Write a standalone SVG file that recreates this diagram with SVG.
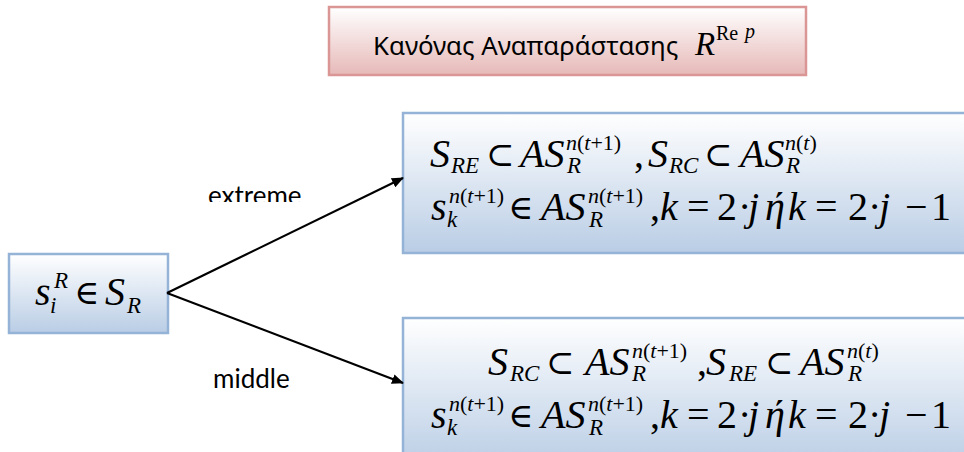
<svg xmlns="http://www.w3.org/2000/svg" width="964" height="452" viewBox="0 0 964 452">
<defs>
<linearGradient id="gBlue" x1="0" y1="0" x2="0" y2="1">
<stop offset="0" stop-color="#ffffff"/>
<stop offset="1" stop-color="#b9cde5"/>
</linearGradient>
<linearGradient id="gRed" x1="0" y1="0" x2="0" y2="1">
<stop offset="0" stop-color="#ffffff"/>
<stop offset="1" stop-color="#e6b9b8"/>
</linearGradient>
<marker id="arr" markerWidth="12" markerHeight="10" refX="11" refY="5" orient="auto" markerUnits="userSpaceOnUse">
<path d="M0,0 L12,5 L0,10 Z" fill="#000"/>
</marker>
<clipPath id="clipExt"><rect x="150" y="150" width="200" height="52"/></clipPath>
</defs>
<style>
.box{fill:url(#gBlue);stroke:#95b3d7;stroke-width:2.5}
.rbox{fill:url(#gRed);stroke:#d99694;stroke-width:2.5}
.m{font-family:"Liberation Serif","Times New Roman",serif;font-size:40px;fill:#000}
.s{font-size:23px}
.p{font-size:22px}
.op{font-family:"DejaVu Serif",serif;font-size:34px;font-weight:normal}
.i{font-style:italic}
.lbl{font-family:Lato,"Open Sans",sans-serif;font-size:26px;fill:#000}
.conn{stroke:#000;stroke-width:2.2;fill:none}
</style>

<g id="title">
<rect class="rbox" x="329" y="7" width="477" height="68"/>
<text x="373" y="55" style="font-family:'Noto Sans','Open Sans',sans-serif;font-size:25.8px" fill="#000">Κανόνας Αναπαράστασης</text>
<text class="m i" x="695" y="55" style="font-size:33px">R</text>
<text class="m" x="716" y="40" style="font-size:20px">Re</text>
<text class="m i" x="745" y="38" style="font-size:20px">p</text>
</g>

<g id="source">
<rect class="box" x="9" y="254" width="159" height="79"/>
<text class="m i" x="35" y="305">s</text>
<text class="m i s" x="54" y="288">R</text>
<text class="m i s" x="50" y="313">i</text>
<text class="m op" x="74" y="304">∈</text>
<text class="m i" x="105" y="305">S</text>
<text class="m i s" x="127" y="313">R</text>
</g>

<g id="extreme-box">
<rect class="box" x="403" y="113" width="570" height="140"/>
<text class="m i" x="430" y="167">S</text>
<text class="m i s" x="451" y="173">RE</text>
<text class="m op" x="486" y="166">⊂</text>
<text class="m i" x="520" y="167">AS</text>
<text class="m p" x="566" y="150"><tspan class="i">n</tspan>(<tspan class="i">t</tspan>+1)</text>
<text class="m i s" x="567" y="173">R</text>
<text class="m" x="634" y="167">,</text>
<text class="m i" x="648" y="167">S</text>
<text class="m i s" x="669" y="173">RC</text>
<text class="m op" x="704" y="166">⊂</text>
<text class="m i" x="740" y="167">AS</text>
<text class="m p" x="785" y="150"><tspan class="i">n</tspan>(<tspan class="i">t</tspan>)</text>
<text class="m i s" x="786" y="173">R</text>

<text class="m i" x="431" y="220">s</text>
<text class="m p" x="449" y="203"><tspan class="i">n</tspan>(<tspan class="i">t</tspan>+1)</text>
<text class="m i s" x="447" y="227">k</text>
<text class="m op" x="508" y="219">∈</text>
<text class="m i" x="541" y="220">AS</text>
<text class="m p" x="588" y="203"><tspan class="i">n</tspan>(<tspan class="i">t</tspan>+1)</text>
<text class="m i s" x="589" y="227">R</text>
<text class="m" x="650" y="220">,</text>
<text class="m i" x="660" y="220">k</text>
<text class="m" x="687" y="220">=</text>
<text class="m" x="717" y="220">2</text>
<text class="m" x="738" y="220">·</text>
<text class="m i" x="748" y="220">j</text>
<text class="m i" x="765" y="220">ή</text>
<text class="m i" x="788" y="220">k</text>
<text class="m" x="815" y="220">=</text>
<text class="m" x="848" y="220">2</text>
<text class="m" x="868" y="220">·</text>
<text class="m i" x="879" y="220">j</text>
<text class="m" x="905" y="220">−</text>
<text class="m" x="931" y="220">1</text>
</g>

<g id="middle-box">
<rect class="box" x="403" y="318" width="570" height="150"/>
<text class="m i" x="488" y="375">S</text>
<text class="m i s" x="510" y="381">RC</text>
<text class="m op" x="546" y="374">⊂</text>
<text class="m i" x="585" y="375">AS</text>
<text class="m p" x="632" y="358"><tspan class="i">n</tspan>(<tspan class="i">t</tspan>+1)</text>
<text class="m i s" x="632" y="381">R</text>
<text class="m" x="697" y="375">,</text>
<text class="m i" x="706" y="375">S</text>
<text class="m i s" x="729" y="381">RE</text>
<text class="m op" x="765" y="374">⊂</text>
<text class="m i" x="800" y="375">AS</text>
<text class="m p" x="847" y="358"><tspan class="i">n</tspan>(<tspan class="i">t</tspan>)</text>
<text class="m i s" x="848" y="381">R</text>

<text class="m i" x="431" y="428">s</text>
<text class="m p" x="449" y="411"><tspan class="i">n</tspan>(<tspan class="i">t</tspan>+1)</text>
<text class="m i s" x="447" y="435">k</text>
<text class="m op" x="508" y="427">∈</text>
<text class="m i" x="541" y="428">AS</text>
<text class="m p" x="588" y="411"><tspan class="i">n</tspan>(<tspan class="i">t</tspan>+1)</text>
<text class="m i s" x="589" y="435">R</text>
<text class="m" x="650" y="428">,</text>
<text class="m i" x="660" y="428">k</text>
<text class="m" x="687" y="428">=</text>
<text class="m" x="717" y="428">2</text>
<text class="m" x="738" y="428">·</text>
<text class="m i" x="748" y="428">j</text>
<text class="m i" x="765" y="428">ή</text>
<text class="m i" x="788" y="428">k</text>
<text class="m" x="815" y="428">=</text>
<text class="m" x="848" y="428">2</text>
<text class="m" x="868" y="428">·</text>
<text class="m i" x="879" y="428">j</text>
<text class="m" x="905" y="428">−</text>
<text class="m" x="931" y="428">1</text>
</g>

<g id="connectors">
<line class="conn" x1="167" y1="293" x2="403" y2="178" marker-end="url(#arr)"/>
<line class="conn" x1="167" y1="293" x2="403" y2="383" marker-end="url(#arr)"/>
<text class="lbl" x="208" y="205" clip-path="url(#clipExt)">extreme</text>
<text class="lbl" x="213" y="388">middle</text>
</g>
</svg>
